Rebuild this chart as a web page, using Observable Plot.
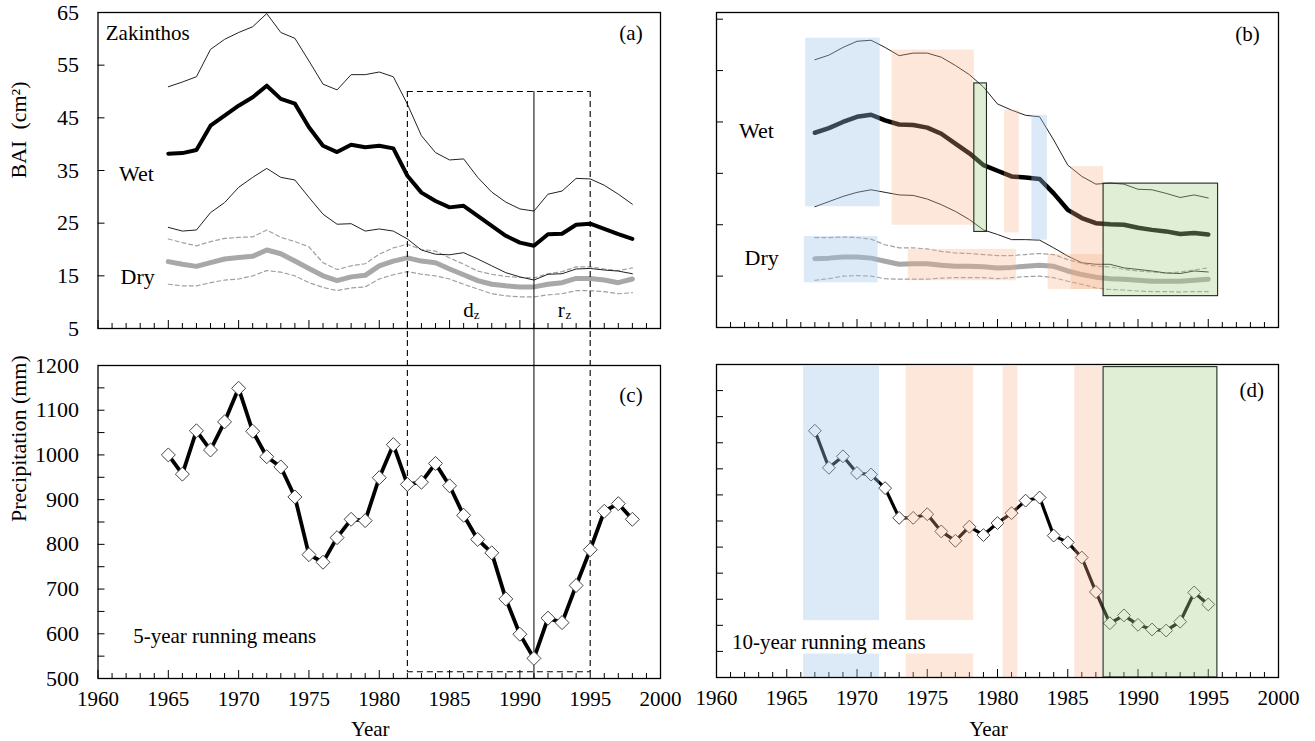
<!DOCTYPE html>
<html><head><meta charset="utf-8">
<script src="https://cdn.jsdelivr.net/npm/d3@7"></script>
<script src="https://cdn.jsdelivr.net/npm/@observablehq/plot@0.6"></script>
<style>
body{margin:0;background:#fff;}
#wrap{position:relative;width:1315px;height:741px;overflow:hidden;background:#fff;}
</style></head><body><div id="wrap"></div>
<script>
// ---------- data ----------
const yearsA = [1965,1966,1967,1968,1969,1970,1971,1972,1973,1974,1975,1976,1977,1978,1979,1980,1981,1982,1983,1984,1985,1986,1987,1988,1989,1990,1991,1992,1993,1994,1995,1996,1997,1998];
const wetMeanA = [38.2,38.3,38.9,43.5,45.4,47.3,48.9,51.1,48.6,47.7,43.2,39.7,38.5,39.9,39.4,39.7,39.2,34.0,30.8,29.2,28.0,28.3,26.4,24.5,22.6,21.3,20.7,22.9,23.0,24.7,24.9,23.9,22.9,22.0];
const wetHiA = [50.9,51.8,52.8,58.0,59.9,61.2,62.3,64.8,61.2,60.1,55.8,51.4,50.3,53.2,53.2,53.7,52.8,47.6,41.6,38.4,37.0,37.2,33.7,30.9,29.0,27.7,27.3,30.5,31.1,33.5,33.4,32.2,30.5,28.6];
const wetLoA = [24.2,23.5,23.7,27.0,28.9,31.8,33.7,35.4,33.7,33.2,29.9,26.7,24.8,24.9,23.5,23.9,23.5,22.0,19.9,19.1,19.0,19.4,18.2,16.9,15.6,14.8,14.2,15.3,15.4,16.3,16.4,16.1,15.9,15.4];
const dryMeanA = [17.7,17.2,16.8,17.5,18.2,18.5,18.7,19.9,19.2,17.8,16.4,15.0,14.1,14.8,15.1,16.9,17.8,18.4,17.8,17.5,16.3,15.2,14.1,13.4,13.1,12.9,12.9,13.4,13.7,14.5,14.5,14.2,13.7,14.4];
const dryHiA = [22.0,21.3,20.7,21.5,22.1,22.3,22.4,23.7,22.3,21.5,20.5,17.5,16.2,16.9,17.3,19.1,20.3,21.0,20.0,19.7,18.4,17.2,15.9,15.3,14.9,14.7,14.6,15.4,15.8,16.7,16.7,16.3,16.0,16.5];
const dryLoA = [13.4,13.1,13.1,13.7,14.2,14.4,15.0,16.0,15.7,15.0,13.7,12.8,12.2,12.7,12.9,14.4,15.2,15.8,15.3,15.0,14.4,13.4,12.5,11.6,11.2,11.0,11.0,11.4,11.6,12.2,12.2,12.0,11.6,11.8];
const precip5 = [1000,957,1054,1011,1074,1149,1053,996,973,906,777,760,815,856,853,949,1023,934,939,981,931,865,811,781,678,599,545,635,625,708,788,874,891,856];

const yearsB = [1967,1968,1969,1970,1971,1972,1973,1974,1975,1976,1977,1978,1979,1980,1981,1982,1983,1984,1985,1986,1987,1988,1989,1990,1991,1992,1993,1994,1995];
const wetMeanB = [42.9,43.8,45.0,46.0,46.4,45.3,44.5,44.4,43.9,42.7,40.8,38.9,36.6,35.5,34.4,34.2,33.9,31.1,27.9,26.3,25.3,25.1,25.0,24.4,24.0,23.7,23.2,23.4,23.1];
const wetHiB = [57.1,58.0,59.5,60.7,60.9,59.5,57.9,58.4,58.4,57.6,56.0,54.2,51.8,48.5,47.3,46.3,46.0,41.5,36.6,34.4,32.9,33.1,32.9,31.9,31.8,31.1,30.3,30.8,30.2];
const wetLoB = [28.5,29.5,30.5,31.3,31.8,31.3,30.8,30.7,30.0,28.9,27.6,26.0,24.0,23.1,22.1,22.1,22.0,20.5,18.9,17.6,17.3,17.3,16.6,16.3,16.0,15.6,15.5,16.0,15.8];
const dryMeanB = [18.4,18.5,18.7,18.7,18.5,17.9,17.3,17.4,17.4,17.1,16.9,16.9,16.8,16.6,16.7,16.9,17.1,16.9,16.0,15.3,14.8,14.5,14.4,14.2,14.0,14.0,14.0,14.2,14.4];
const dryHiB = [22.5,22.5,22.6,22.5,22.2,21.1,20.5,20.5,20.3,19.8,19.5,19.4,19.2,19.0,19.0,19.2,19.4,19.2,18.2,17.5,16.9,16.8,16.3,16.0,15.8,15.6,15.8,16.2,16.6];
const dryLoB = [14.2,14.5,15.0,15.1,15.0,14.5,14.4,14.4,14.4,14.6,14.7,14.7,14.7,14.5,14.7,14.9,15.0,14.7,14.0,13.4,12.7,12.4,12.3,12.1,12.0,12.0,11.9,12.0,12.0];
const precip10 = [1073,1002,1024,992,989,963,906,906,913,880,862,889,873,896,915,939,945,872,859,830,764,704,719,701,692,690,707,763,740];

// shaded periods (years, value ranges)
const periodsB = [
  {kind:"blue",   x1:1966.35, x2:1971.65, y1:28.5, y2:61.3},
  {kind:"blue",   x1:1966.25, x2:1971.5,  y1:13.7, y2:22.7},
  {kind:"orange", x1:1972.5,  x2:1978.35, y1:24.9, y2:59.0},
  {kind:"orange", x1:1973.65, x2:1981.35, y1:14.1, y2:20.2},
  {kind:"orange", x1:1980.5,  x2:1981.55, y1:23.4, y2:47.3},
  {kind:"blue",   x1:1982.45, x2:1983.55, y1:22.0, y2:46.3},
  {kind:"orange", x1:1985.25, x2:1987.55, y1:12.4, y2:36.3},
  {kind:"orange", x1:1983.6,  x2:1987.55, y1:12.4, y2:19.2},
  {kind:"green",  x1:1978.35, x2:1979.25, y1:23.6, y2:52.5},
  {kind:"green",  x1:1987.55, x2:1995.7,  y1:11.1, y2:33.0}
];
const periodsD = [
  {kind:"blue",   x1:1966.2,  x2:1971.6,  y1:600, y2:1196},
  {kind:"orange", x1:1973.5,  x2:1978.3,  y1:600, y2:1196},
  {kind:"orange", x1:1980.4,  x2:1981.45, y1:600, y2:1196},
  {kind:"orange", x1:1985.5,  x2:1987.5,  y1:600, y2:1196},
  {kind:"green",  x1:1987.55, x2:1995.65, y1:600, y2:1195}
];

const xLabels = [1960,1965,1970,1975,1980,1985,1990,1995,2000];
const yearTicks = [1960,1961,1962,1963,1964,1965,1966,1967,1968,1969,1970,1971,1972,1973,1974,1975,1976,1977,1978,1979,1980,1981,1982,1983,1984,1985,1986,1987,1988,1989,1990,1991,1992,1993,1994,1995,1996,1997,1998,1999,2000];
const baiTicks = [5,15,25,35,45,55,65];
const precipLabels = [500,600,700,800,900,1000,1100,1200];
const precipTicks = [550,600,650,700,750,800,850,900,950,1000,1050,1100,1150];
const precipTicksD = [650,700,750,800,850,900,950,1000,1050,1100,1150];

// ---------- layout ----------
const FONT = "'Liberation Serif','Times New Roman','DejaVu Serif',serif";
const L = {
  a: {left:0,   top:0,   w:680, h:340, ml:97.5, mr:20, mt:12, mb:12, y:[5,65]},
  c: {left:0,   top:340, w:680, h:401, ml:97.5, mr:20, mt:25, mb:63, y:[500,1200]},
  b: {left:680, top:0,   w:635, h:340, ml:36,   mr:37, mt:12, mb:13, y:[5,66.3]},
  d: {left:680, top:340, w:635, h:401, ml:36,   mr:37, mt:24, mb:64, y:[600,1200]}
};
const uy = (p, px) => px * (p.y[1]-p.y[0]) / (p.h - p.mt - p.mb);
const ux = (p, px) => px * 40 / (p.w - p.ml - p.mr);

const fills = {blue:"#9dc3e6", orange:"#f4b183", green:"#a9d18e"};
const fop = {blue:0.36, orange:0.30, green:0.36};

function tickMarks(p, yT) {
  return [
    Plot.ruleX(yearTicks, {x: d => d, y1: p.y[0], y2: d => p.y[0] + uy(p, d % 5 === 0 ? 8 : 5), stroke: "#000", strokeWidth: 1}),
    Plot.ruleY(yT, {y: d => d, x1: 1960, x2: 1960 + ux(p, 7), stroke: "#000", strokeWidth: 1})
  ];
}
function periodMarks(list) {
  return ["blue","orange","green"].map(k => Plot.rect(list.filter(d => d.kind === k), {
    x1: "x1", x2: "x2", y1: "y1", y2: "y2", fill: fills[k], fillOpacity: fop[k],
    stroke: k === "green" ? "#1d2b1d" : "none", strokeWidth: 1.1
  }));
}
function label(p, txt, x, y, o = {}) {
  return Plot.text([txt], {x, y, text: d => d, fontSize: 21, fontFamily: FONT, fill: "#000", ...o});
}

const wrap = document.getElementById("wrap");
function panel(p, marks) {
  const svg = Plot.plot({
    width: p.w, height: p.h,
    marginLeft: p.ml, marginRight: p.mr, marginTop: p.mt, marginBottom: p.mb,
    x: {domain: [1960, 2000], axis: null},
    y: {domain: p.y, axis: null},
    style: {fontFamily: FONT, fontSize: "22px", color: "#000", background: "transparent", overflow: "visible"},
    marks
  });
  svg.style.position = "absolute";
  svg.style.left = p.left + "px";
  svg.style.top = p.top + "px";
  svg.style.maxWidth = "none";
  wrap.appendChild(svg);
}

const rowsA = yearsA.map((yr, i) => ({year: yr, wm: wetMeanA[i], wh: wetHiA[i], wl: wetLoA[i], dm: dryMeanA[i], dh: dryHiA[i], dl: dryLoA[i], p: precip5[i]}));
const rowsB = yearsB.map((yr, i) => ({year: yr, wm: wetMeanB[i], wh: wetHiB[i], wl: wetLoB[i], dm: dryMeanB[i], dh: dryHiB[i], dl: dryLoB[i], p: precip10[i]}));

function baiLines(rows, wetW) {
  return [
    Plot.line(rows, {x: "year", y: "dh", stroke: "#a0a0a0", strokeWidth: 1.2, strokeDasharray: "4,3"}),
    Plot.line(rows, {x: "year", y: "dl", stroke: "#a0a0a0", strokeWidth: 1.2, strokeDasharray: "4,3"}),
    Plot.line(rows, {x: "year", y: "dm", stroke: "#a8a8a8", strokeWidth: 5}),
    Plot.line(rows, {x: "year", y: "wh", stroke: "#222", strokeWidth: 1}),
    Plot.line(rows, {x: "year", y: "wl", stroke: "#222", strokeWidth: 1}),
    Plot.line(rows, {x: "year", y: "wm", stroke: "#000", strokeWidth: wetW})
  ];
}
const yAxis = ticks => Plot.axisY({ticks, tickSize: 0, tickPadding: 19, tickFormat: d => String(d), label: null, fontSize: 22, fontFamily: FONT});
const xAxis = () => Plot.axisX({ticks: xLabels, tickSize: 0, tickPadding: 13, tickFormat: d => String(d), label: null, fontSize: 21, fontFamily: FONT});
const yearTitle = p => Plot.text(["Year"], {frameAnchor: "bottom", lineAnchor: "bottom", dx: -9, dy: p.mb - 6, fontSize: 21, fontFamily: FONT, fill: "#000"});

// ---------- panel (a) ----------
{
  const p = L.a;
  const bottom = p.y[0] - uy(p, p.mb);
  panel(p, [
    yAxis(baiTicks),
    ...tickMarks(p, baiTicks),
    ...baiLines(rowsA, 4),
    Plot.ruleX([1982, 1995], {x: d => d, y1: 50, y2: bottom, stroke: "#000", strokeWidth: 1.1, strokeDasharray: "6,4"}),
    Plot.ruleY([50], {y: d => d, x1: 1982, x2: 1995, stroke: "#000", strokeWidth: 1.1, strokeDasharray: "6,4"}),
    Plot.ruleX([1991], {x: d => d, y1: 50, y2: bottom, stroke: "#000", strokeWidth: 1}),
    Plot.text(["BAI  (cm²)"], {frameAnchor: "left", rotate: -90, dx: -79.5, dy: 8, fontSize: 22, fontFamily: FONT, fill: "#000"}),
    label(p, "Zakinthos", 1960.55, 61, {textAnchor: "start"}),
    label(p, "(a)", 1997.9, 61),
    label(p, "Wet", 1961.5, 34.4, {textAnchor: "start", fontSize: 22}),
    label(p, "Dry", 1961.6, 14.7, {textAnchor: "start", fontSize: 22}),
    label(p, "d", 1986.35, 8.4),
    label(p, "z", 1986.35, 8.4, {dx: 8, dy: 4, fontSize: 13}),
    label(p, "r", 1992.95, 8.4),
    label(p, "z", 1992.95, 8.4, {dx: 7, dy: 4, fontSize: 13}),
    Plot.frame({stroke: "#000", strokeWidth: 1.3})
  ]);
}

// ---------- panel (c) ----------
{
  const p = L.c;
  const top = p.y[1] + uy(p, p.mt);
  panel(p, [
    yAxis(precipLabels),
    xAxis(),
    ...tickMarks(p, precipTicks),
    Plot.ruleX([1982, 1995], {x: d => d, y1: top, y2: 515, stroke: "#000", strokeWidth: 1.1, strokeDasharray: "6,4"}),
    Plot.ruleY([515], {y: d => d, x1: 1982, x2: 1995, stroke: "#000", strokeWidth: 1.1, strokeDasharray: "6,4"}),
    Plot.ruleX([1991], {x: d => d, y1: top, y2: 500, stroke: "#000", strokeWidth: 1}),
    Plot.line(rowsA, {x: "year", y: "p", stroke: "#000", strokeWidth: 3.8}),
    Plot.dot(rowsA, {x: "year", y: "p", symbol: "diamond2", r: 6.3, fill: "#fff", stroke: "#444", strokeWidth: 1}),
    Plot.text(["Precipitation (mm)"], {frameAnchor: "left", rotate: -90, dx: -79.5, fontSize: 22, fontFamily: FONT, fill: "#000"}),
    yearTitle(p),
    label(p, "(c)", 1997.9, 1133),
    label(p, "5-year running means", 1962.5, 594, {textAnchor: "start"}),
    Plot.frame({stroke: "#000", strokeWidth: 1.3})
  ]);
}

// ---------- panel (b) ----------
{
  const p = L.b;
  panel(p, [
    ...tickMarks(p, [15,25,35,45,55,65]),
    ...baiLines(rowsB, 4.5),
    ...periodMarks(periodsB),
    label(p, "Wet", 1961.6, 43.3, {textAnchor: "start", fontSize: 22}),
    label(p, "Dry", 1962.0, 18.6, {textAnchor: "start", fontSize: 22}),
    label(p, "(b)", 1997.8, 62.1),
    Plot.frame({stroke: "#000", strokeWidth: 1.3})
  ]);
}

// ---------- panel (d) ----------
{
  const p = L.d;
  panel(p, [
    xAxis(),
    ...tickMarks(p, precipTicksD),
    Plot.line(rowsB, {x: "year", y: "p", stroke: "#000", strokeWidth: 3.2}),
    Plot.dot(rowsB, {x: "year", y: "p", symbol: "diamond2", r: 5.8, fill: "#fff", stroke: "#444", strokeWidth: 1}),
    ...periodMarks(periodsD),
    Plot.rect([0], {x1: 1960.6, x2: 1979.6, y1: 645, y2: 709, fill: "#fff"}),
    label(p, "10-year running means", 1961.1, 668, {textAnchor: "start"}),
    label(p, "(d)", 1998.1, 1150),
    yearTitle(p),
    Plot.frame({stroke: "#000", strokeWidth: 1.3})
  ]);
}
</script></body></html>
